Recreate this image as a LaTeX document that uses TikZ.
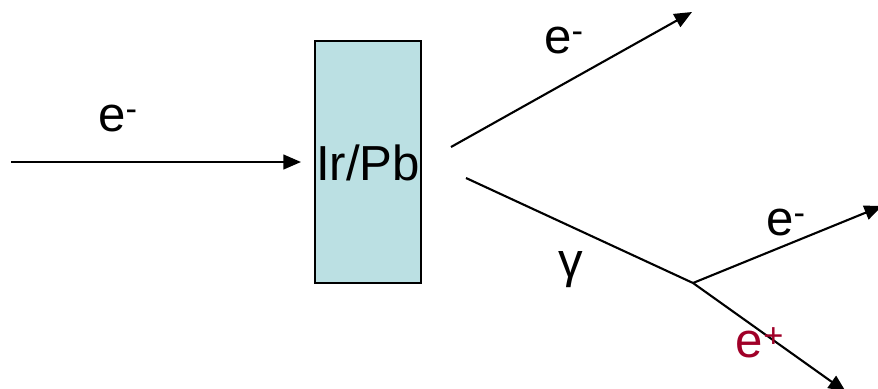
\documentclass[tikz,border=0pt]{standalone}
\usepackage{fontspec}
\setmainfont{Liberation Sans}
\usetikzlibrary{arrows.meta}
\definecolor{targetfill}{RGB}{187,224,227}
\definecolor{posicolor}{RGB}{160,0,40}
\tikzset{
  track/.style={line width=1.8pt,-{Triangle[length=15pt,width=12.5pt]}},
  line/.style={line width=1.8pt},
  lbl/.style={font=\fontsize{42}{50}\selectfont,inner sep=0pt}
}
\begin{document}
\begin{tikzpicture}[x=0.03cm,y=-0.03cm]
  \useasboundingbox (0,0) rectangle (878,388);
  % target
  \node[draw,line width=1.8pt,fill=targetfill,minimum width=106*0.03cm,minimum height=242*0.03cm,inner sep=0pt]
    (target) at (368,162) {};
  \node[lbl] (tname) at (368,163) {Ir/Pb};
  % incoming electron
  \coordinate (src) at (11,162);
  \coordinate (hit) at (301,162);
  \draw[track] (src) -- (hit);
  \node[lbl] (ein) at (118,118) {e\textsuperscript{-}};
  % scattered electron and photon
  \coordinate (eoutstart) at (451,147);
  \coordinate (eoutend) at (692,12);
  \draw[track] (eoutstart) -- (eoutend);
  \node[lbl] (eout) at (564,40) {e\textsuperscript{-}};
  \coordinate (gstart) at (466,178);
  \coordinate (vtx) at (693,283);
  \draw[line] (gstart) -- (vtx);
  \node[lbl] (gam) at (571,270) {γ};
  % pair
  \coordinate (elend) at (882,206);
  \coordinate (poend) at (846,392);
  \draw[track] (vtx) -- (elend);
  \draw[track] (vtx) -- (poend);
  \node[lbl] (epair) at (786,222) {e\textsuperscript{-}};
  \node[lbl,text=posicolor] (ppair) at (760,343) {e\textsuperscript{+}};
\end{tikzpicture}
\end{document}
